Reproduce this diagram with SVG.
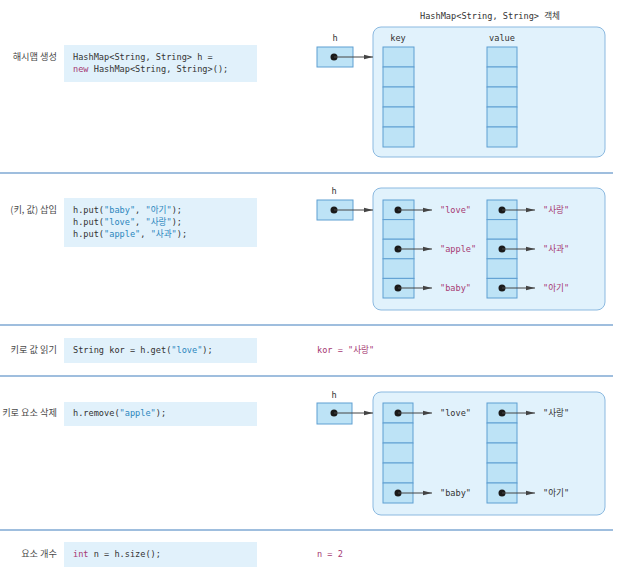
<svg xmlns="http://www.w3.org/2000/svg" width="622" height="568" viewBox="0 0 622 568">
<style>
.bg{fill:#ffffff}
.div{stroke:#7fa8d3;stroke-width:1.3}
.code{fill:#e1f1fb}
.lbl{font-family:"Noto Sans CJK KR","Noto Sans",sans-serif;font-size:9.2px;fill:#4a4a4a;text-anchor:end}
.mono{font-family:"DejaVu Sans Mono","Liberation Mono","Noto Sans CJK KR",monospace;font-size:8.6px;fill:#333}
.kw{fill:#a63a73}
.str{fill:#2b86bd}
.mag{fill:#a63a73}
.ctr{text-anchor:middle}
.box{fill:#e1f2fc;stroke:#8bb9e0;stroke-width:1}
.cell{fill:#bde3f6;stroke:#5f9fd2;stroke-width:1}
.dot{fill:#1a1a1a}
.arr{stroke:#444;stroke-width:1;fill:none;marker-end:url(#ah)}
</style>
<defs>
<marker id="ah" markerWidth="9" markerHeight="6" refX="9" refY="3" orient="auto" markerUnits="userSpaceOnUse">
<path d="M0,0.8 L9,3 L0,5.2 Z" fill="#444"/>
</marker>
</defs>
<rect class="bg" x="0" y="0" width="622" height="568"/>

<g id="dividers">
<line class="div" x1="0" y1="173" x2="613" y2="173"/>
<line class="div" x1="0" y1="325" x2="613" y2="325"/>
<line class="div" x1="0" y1="376" x2="613" y2="376"/>
<line class="div" x1="0" y1="530" x2="613" y2="530"/>
</g>

<!-- Section 1 -->
<g id="s1-label"><text class="lbl" x="57" y="60">해시맵 생성</text></g>
<g id="s1-code">
<rect class="code" x="64" y="45" width="193" height="37"/>
<text class="mono" x="73" y="60">HashMap&lt;String, String&gt; h =</text>
<text class="mono" x="73" y="72"><tspan class="kw">new</tspan> HashMap&lt;String, String&gt;();</text>
</g>
<g id="s1-map">
<text class="mono ctr" x="490" y="19">HashMap&lt;String, String&gt; 객체</text>
<rect class="box" x="373" y="27" width="232" height="130" rx="8"/>
<text class="mono ctr" x="398" y="41">key</text>
<text class="mono ctr" x="502" y="41">value</text>
<rect class="cell" x="383" y="47" width="31" height="20"/>
<rect class="cell" x="383" y="67" width="31" height="20"/>
<rect class="cell" x="383" y="87" width="31" height="20"/>
<rect class="cell" x="383" y="107" width="31" height="20"/>
<rect class="cell" x="383" y="127" width="31" height="20"/>
<rect class="cell" x="487" y="47" width="30" height="20"/>
<rect class="cell" x="487" y="67" width="30" height="20"/>
<rect class="cell" x="487" y="87" width="30" height="20"/>
<rect class="cell" x="487" y="107" width="30" height="20"/>
<rect class="cell" x="487" y="127" width="30" height="20"/>
</g>
<g id="s1-h">
<text class="mono ctr" x="335" y="41">h</text>
<rect class="cell" x="317" y="47" width="36" height="20"/>
<circle class="dot" cx="334" cy="57" r="3.5"/>
</g>

<!-- Section 2 -->
<g id="s2-label"><text class="lbl" x="57" y="213">(키, 값) 삽입</text></g>
<g id="s2-code">
<rect class="code" x="64" y="198" width="193" height="49"/>
<text class="mono" x="73" y="213">h.put(<tspan class="str">"baby"</tspan>, <tspan class="str">"아기"</tspan>);</text>
<text class="mono" x="73" y="225">h.put(<tspan class="str">"love"</tspan>, <tspan class="str">"사랑"</tspan>);</text>
<text class="mono" x="73" y="237">h.put(<tspan class="str">"apple"</tspan>, <tspan class="str">"사과"</tspan>);</text>
</g>
<g id="s2-map">
<rect class="box" x="373" y="188" width="232" height="122" rx="8"/>
<rect class="cell" x="383" y="200" width="31" height="19.6"/>
<rect class="cell" x="383" y="219.6" width="31" height="19.6"/>
<rect class="cell" x="383" y="239.2" width="31" height="19.6"/>
<rect class="cell" x="383" y="258.8" width="31" height="19.6"/>
<rect class="cell" x="383" y="278.4" width="31" height="19.6"/>
<rect class="cell" x="487" y="200" width="30" height="19.6"/>
<rect class="cell" x="487" y="219.6" width="30" height="19.6"/>
<rect class="cell" x="487" y="239.2" width="30" height="19.6"/>
<rect class="cell" x="487" y="258.8" width="30" height="19.6"/>
<rect class="cell" x="487" y="278.4" width="30" height="19.6"/>
<circle class="dot" cx="398" cy="210" r="3.5"/>
<circle class="dot" cx="398" cy="249" r="3.5"/>
<circle class="dot" cx="398" cy="288" r="3.5"/>
<circle class="dot" cx="502" cy="210" r="3.5"/>
<circle class="dot" cx="502" cy="249" r="3.5"/>
<circle class="dot" cx="502" cy="288" r="3.5"/>
<text class="mono mag" x="440" y="213">"love"</text>
<text class="mono mag" x="440" y="252">"apple"</text>
<text class="mono mag" x="440" y="291">"baby"</text>
<text class="mono mag" x="543" y="213">"사랑"</text>
<text class="mono mag" x="543" y="252">"사과"</text>
<text class="mono mag" x="543" y="291">"아기"</text>
</g>
<g id="s2-h">
<text class="mono ctr" x="334" y="194">h</text>
<rect class="cell" x="317" y="200" width="36" height="20"/>
<circle class="dot" cx="334" cy="210" r="3.5"/>
</g>

<!-- Section 3 -->
<g id="s3-label"><text class="lbl" x="57" y="353">키로 값 읽기</text></g>
<g id="s3-code">
<rect class="code" x="64" y="338" width="193" height="25"/>
<text class="mono" x="73" y="353">String kor = h.get(<tspan class="str">"love"</tspan>);</text>
</g>
<g id="s3-result"><text class="mono mag" x="317" y="353">kor = "사랑"</text></g>

<!-- Section 4 -->
<g id="s4-label"><text class="lbl" x="57" y="416">키로 요소 삭제</text></g>
<g id="s4-code">
<rect class="code" x="64" y="402" width="193" height="24"/>
<text class="mono" x="73" y="416">h.remove(<tspan class="str">"apple"</tspan>);</text>
</g>
<g id="s4-map">
<rect class="box" x="373" y="392" width="232" height="123" rx="8"/>
<rect class="cell" x="383" y="403" width="30" height="20"/>
<rect class="cell" x="383" y="423" width="30" height="20"/>
<rect class="cell" x="383" y="443" width="30" height="20"/>
<rect class="cell" x="383" y="463" width="30" height="20"/>
<rect class="cell" x="383" y="483" width="30" height="20"/>
<rect class="cell" x="487" y="403" width="30" height="20"/>
<rect class="cell" x="487" y="423" width="30" height="20"/>
<rect class="cell" x="487" y="443" width="30" height="20"/>
<rect class="cell" x="487" y="463" width="30" height="20"/>
<rect class="cell" x="487" y="483" width="30" height="20"/>
<circle class="dot" cx="398" cy="413" r="3.5"/>
<circle class="dot" cx="398" cy="493" r="3.5"/>
<circle class="dot" cx="502" cy="413" r="3.5"/>
<circle class="dot" cx="502" cy="493" r="3.5"/>
<text class="mono" x="440" y="416">"love"</text>
<text class="mono" x="440" y="496">"baby"</text>
<text class="mono" x="543" y="416">"사랑"</text>
<text class="mono" x="543" y="496">"아기"</text>
</g>
<g id="s4-h">
<text class="mono ctr" x="334" y="398">h</text>
<rect class="cell" x="317" y="403" width="35" height="21"/>
<circle class="dot" cx="334" cy="413" r="3.5"/>
</g>

<!-- Section 5 -->
<g id="s5-label"><text class="lbl" x="57" y="557">요소 개수</text></g>
<g id="s5-code">
<rect class="code" x="64" y="542" width="193" height="25"/>
<text class="mono" x="73" y="557"><tspan class="kw">int</tspan> n = h.size();</text>
</g>
<g id="s5-result"><text class="mono mag" x="317" y="557">n = 2</text></g>

<g id="connectors">
<line class="arr" x1="334" y1="57" x2="373" y2="57"/>
<line class="arr" x1="334" y1="210" x2="373" y2="210"/>
<line class="arr" x1="398" y1="210" x2="432" y2="210"/>
<line class="arr" x1="398" y1="249" x2="432" y2="249"/>
<line class="arr" x1="398" y1="288" x2="432" y2="288"/>
<line class="arr" x1="502" y1="210" x2="535" y2="210"/>
<line class="arr" x1="502" y1="249" x2="535" y2="249"/>
<line class="arr" x1="502" y1="288" x2="535" y2="288"/>
<line class="arr" x1="334" y1="413" x2="373" y2="413"/>
<line class="arr" x1="398" y1="413" x2="432" y2="413"/>
<line class="arr" x1="398" y1="493" x2="432" y2="493"/>
<line class="arr" x1="502" y1="413" x2="535" y2="413"/>
<line class="arr" x1="502" y1="493" x2="535" y2="493"/>
</g>
</svg>
